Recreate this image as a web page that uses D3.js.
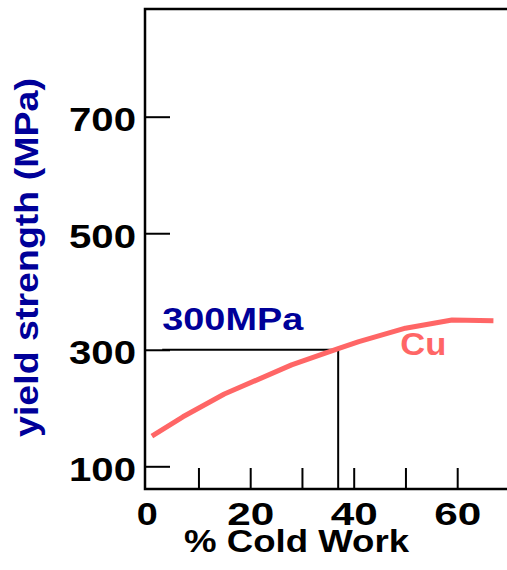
<!DOCTYPE html>
<html>
<head>
<meta charset="utf-8">
<script src="https://cdn.jsdelivr.net/npm/d3@7"></script>
<style>
  html, body { margin: 0; padding: 0; background: #fff; }
  svg { display: block; }
  text { font-family: "Liberation Sans", Arial, Helvetica, sans-serif; font-weight: bold; }
</style>
</head>
<body>
<svg id="chart" width="507" height="570"></svg>
<script>
// Yield strength of copper vs. amount of cold work
const coldWork      = [1, 7, 15, 28, 37, 41, 50, 59, 67];        // % cold work
const yieldStrength = [152, 185, 224, 274, 302, 314, 337, 351, 350]; // MPa

const xTickValues = [0, 10, 20, 30, 40, 50, 60];
const xTickLabels = [0, 20, 40, 60];
const yTickValues = [100, 300, 500, 700];

// Reference marker: 300 MPa reached at about 37 % cold work
const markerStrength = 300;
const markerColdWork = 37;

const seriesName = "Cu";
const xTitle = "% Cold Work";
const yTitle = "yield strength (MPa)";

const RED = "#ff6666";
const BLUE = "#000099";

const svg = d3.select("#chart");

const frame = { left: 145, top: 9, bottom: 489, right: 507 };

const x = d3.scaleLinear().domain([0, 60]).range([146.7, 457.2]);
const y = d3.scaleLinear().domain([100, 700]).range([466.3, 116.7]);

// Frame: left, top and bottom edges (open on the right)
svg.append("path")
  .attr("d", `M${frame.right},${frame.top}H${frame.left}V${frame.bottom}H${frame.right}`)
  .attr("fill", "none")
  .attr("stroke", "#000")
  .attr("stroke-width", 2.5);

// Y axis: inward ticks, labels on the left
const yAxis = svg.append("g")
  .attr("transform", `translate(${frame.left},0)`)
  .call(d3.axisLeft(y).tickValues(yTickValues).tickSizeInner(-25).tickSizeOuter(0).tickPadding(8));
yAxis.select(".domain").remove();
yAxis.selectAll(".tick line").attr("stroke", "#000").attr("stroke-width", 2);
yAxis.selectAll(".tick text")
  .attr("x", 69 - frame.left)
  .attr("dy", null)
  .attr("y", 14)
  .attr("text-anchor", "start")
  .attr("textLength", 67)
  .attr("lengthAdjust", "spacingAndGlyphs")
  .attr("font-size", 34)
  .attr("font-family", "'Liberation Sans', Arial, sans-serif")
  .attr("font-weight", "bold")
  .attr("fill", "#000");

// X axis: inward ticks at every 10 %, labels every 20 %
const xAxis = svg.append("g")
  .attr("transform", `translate(0,${frame.bottom})`)
  .call(d3.axisBottom(x).tickValues(xTickValues).tickSizeInner(-21).tickSizeOuter(0)
    .tickFormat(d => xTickLabels.includes(d) ? String(d) : ""));
xAxis.select(".domain").remove();
xAxis.selectAll(".tick line")
  .attr("stroke", "#000").attr("stroke-width", 2)
  .attr("display", d => d === 0 ? "none" : null);
xAxis.selectAll(".tick text")
  .attr("dy", null)
  .attr("y", 36)
  .attr("text-anchor", "middle")
  .attr("textLength", d => String(d).length === 1 ? 21 : 47)
  .attr("lengthAdjust", "spacingAndGlyphs")
  .attr("font-size", 31)
  .attr("font-family", "'Liberation Sans', Arial, sans-serif")
  .attr("font-weight", "bold")
  .attr("fill", "#000");

// Marker lines at 300 MPa
svg.append("line")
  .attr("x1", x(3)).attr("x2", x(markerColdWork))
  .attr("y1", y(markerStrength)).attr("y2", y(markerStrength))
  .attr("stroke", "#000").attr("stroke-width", 2);
svg.append("line")
  .attr("x1", x(markerColdWork)).attr("x2", x(markerColdWork))
  .attr("y1", y(markerStrength)).attr("y2", frame.bottom)
  .attr("stroke", "#000").attr("stroke-width", 2);

// Copper curve
const points = coldWork.map((c, i) => [c, yieldStrength[i]]);
svg.append("path")
  .datum(points)
  .attr("d", d3.line().x(d => x(d[0])).y(d => y(d[1])))
  .attr("fill", "none")
  .attr("stroke", RED)
  .attr("stroke-width", 5)
  .attr("stroke-linejoin", "round");

// Annotations
svg.append("text")
  .attr("x", x(3)).attr("y", y(markerStrength) - 20)
  .attr("font-size", 32)
  .attr("textLength", 141)
  .attr("lengthAdjust", "spacingAndGlyphs")
  .attr("fill", BLUE)
  .text(markerStrength + "MPa");

svg.append("text")
  .attr("x", x(49)).attr("y", y(markerStrength) + 5)
  .attr("font-size", 32)
  .attr("textLength", 46)
  .attr("lengthAdjust", "spacingAndGlyphs")
  .attr("fill", RED)
  .text(seriesName);

// Axis titles
svg.append("text")
  .attr("x", 296.5).attr("y", 552)
  .attr("text-anchor", "middle")
  .attr("font-size", 31)
  .attr("textLength", 225)
  .attr("lengthAdjust", "spacingAndGlyphs")
  .attr("fill", "#000")
  .text(xTitle);

svg.append("text")
  .attr("transform", "translate(38,257.5) rotate(-90)")
  .attr("text-anchor", "middle")
  .attr("font-size", 33)
  .attr("textLength", 359)
  .attr("lengthAdjust", "spacingAndGlyphs")
  .attr("fill", BLUE)
  .text(yTitle);
</script>
</body>
</html>
